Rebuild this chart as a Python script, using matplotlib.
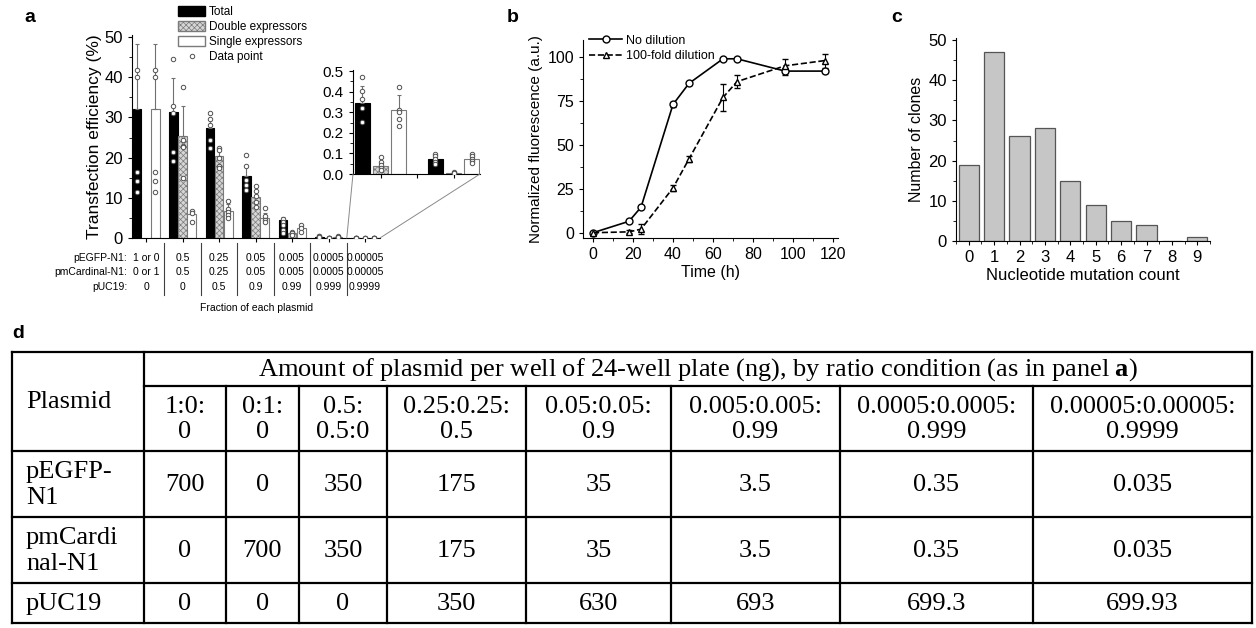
import numpy as np
import matplotlib
matplotlib.use("Agg")
import matplotlib.pyplot as plt
from matplotlib.lines import Line2D
from matplotlib.patches import Patch, ConnectionPatch
from matplotlib.ticker import MultipleLocator

W, H = 1256, 628
SANS = ["Liberation Sans", "DejaVu Sans"]
SERIF = ["Liberation Serif", "DejaVu Serif"]
plt.rcParams["font.family"] = SANS
plt.rcParams["hatch.linewidth"] = 0.5
plt.rcParams["mathtext.fontset"] = "custom"
plt.rcParams["mathtext.rm"] = "Liberation Serif"
plt.rcParams["mathtext.bf"] = "Liberation Serif:bold"

# ---- panel a: transfection efficiency (%) per ratio condition ----
frac_egfp = ["1 or 0", "0.5", "0.25", "0.05", "0.005", "0.0005", "0.00005"]
frac_card = ["0 or 1", "0.5", "0.25", "0.05", "0.005", "0.0005", "0.00005"]
frac_puc = ["0", "0", "0.5", "0.9", "0.99", "0.999", "0.9999"]

total_mean = [32.0, 31.4, 27.4, 15.3, 4.4, 0.346, 0.073]
total_err = [16.2, 8.3, 1.9, 2.5, 0.8, 0.081, 0.024]
double_mean = [None, 25.4, 20.5, 10.2, 1.2, 0.039, 0.005]
double_err = [None, 7.4, 1.4, 2.6, 0.4, 0.013, 0.003]
single_mean = [32.0, 6.0, 6.8, 5.0, 2.6, 0.311, 0.073]
single_err = [16.2, 1.0, 1.6, 1.2, 0.6, 0.072, 0.012]

total_pts = [[41.8, 40.1, 16.5, 14.2, 11.4], [44.5, 32.8, 31.0, 21.5, 19.2],
             [31.0, 29.6, 28.2, 24.5, 22.3], [20.6, 17.8, 14.5, 13.2, 12.0],
             [4.8, 4.0, 3.3, 2.0, 1.2], [0.472, 0.403, 0.362, 0.319, 0.251],
             [0.097, 0.085, 0.072, 0.060, 0.048]]
double_pts = [[], [37.6, 24.5, 23.0, 22.7, 14.9], [22.5, 21.8, 20.0, 18.0, 17.3],
              [13.0, 11.8, 10.5, 9.0, 7.8], [1.6, 1.2, 0.8],
              [0.081, 0.058, 0.042, 0.028, 0.020], [0.008, 0.006, 0.004]]
single_pts = [[41.8, 40.1, 16.5, 14.2, 11.4], [6.7, 6.2, 4.1], [9.3, 7.2, 6.5, 5.8, 5.0],
              [7.5, 5.5, 4.5, 4.0], [3.2, 2.4, 1.5],
              [0.424, 0.310, 0.299, 0.269, 0.233], [0.095, 0.085, 0.075, 0.065, 0.055]]

# ---- panel b: normalized fluorescence over time ----
time_h = [0, 18, 24, 40, 48, 65, 72, 96, 116]
no_dil = [0, 6.5, 14.5, 73, 85, 99, 99, 92, 92]
no_dil_err = [0.5, 0.5, 0.5, 1.5, 1.0, 0.5, 0.5, 2.0, 1.0]
dil = [0, 0.5, 2.0, 25.5, 42, 77, 86, 95, 98]
dil_err = [0.5, 0.8, 3.0, 1.5, 1.5, 7.5, 3.5, 4.0, 4.0]

# ---- panel c: histogram of mutation counts ----
mut_count = [0, 1, 2, 3, 4, 5, 6, 7, 8, 9]
n_clones = [19, 47, 26, 28, 15, 9, 5, 4, 0, 1]

# ---- panel d: table ----
tbl_header = "Amount of plasmid per well of 24-well plate (ng), by ratio condition (as in panel $\\mathbf{a}$)"
tbl_ratios = ["1:0:\n0", "0:1:\n0", "0.5:\n0.5:0", "0.25:0.25:\n0.5", "0.05:0.05:\n0.9",
              "0.005:0.005:\n0.99", "0.0005:0.0005:\n0.999", "0.00005:0.00005:\n0.9999"]
tbl_rows = ["pEGFP-\nN1", "pmCardi\nnal-N1", "pUC19"]
tbl_egfp = ["700", "0", "350", "175", "35", "3.5", "0.35", "0.035"]
tbl_card = ["0", "700", "350", "175", "35", "3.5", "0.35", "0.035"]
tbl_puc = ["0", "0", "0", "350", "630", "693", "699.3", "699.93"]


def box(x0, y0, x1, y1):
    return [x0 / W, 1 - y1 / H, (x1 - x0) / W, (y1 - y0) / H]


def letter(x, y, s):
    fig.text(x / W, 1 - y / H, s, fontsize=14, fontweight="bold", ha="center", va="center")


STYLES = [dict(facecolor="black", edgecolor="black"),
          dict(facecolor="#d6d6d6", edgecolor="#7a7a7a", hatch="xxxxxx"),
          dict(facecolor="white", edgecolor="#7a7a7a")]
OFFS = [-0.25, 0.0, 0.25]


def draw_bars(ax, idx, width, ms, cap):
    series = [(total_mean, total_err, total_pts),
              (double_mean, double_err, double_pts),
              (single_mean, single_err, single_pts)]
    for k, (means, errs, pts) in enumerate(series):
        for j, i in enumerate(idx):
            if means[i] is None:
                continue
            xc = j + OFFS[k]
            ax.bar(xc, means[i], width, lw=0.8, zorder=2, **STYLES[k])
            ax.errorbar(xc, means[i], yerr=[[0], [errs[i]]], color="#707070", lw=0.8,
                        capsize=cap, capthick=0.8, zorder=3)
            ax.plot([xc] * len(pts[i]), pts[i], "o", ls="none", ms=ms, mfc="white",
                    mec="#505050", mew=0.7, zorder=4)


fig = plt.figure(figsize=(W / 100, H / 100), dpi=100)

# table first so that plots sit on top
tab = fig.add_axes([0, 0, 1, 1])
tab.set_xlim(0, W)
tab.set_ylim(H, 0)
tab.axis("off")
cols = [12, 144, 226, 299, 387, 526, 671, 840, 1033, 1252]
rows = [352, 386, 451, 517, 583, 623]
lk = dict(color="black", lw=1.6, solid_capstyle="projecting")
tab.plot([cols[0], cols[-1]], [rows[0], rows[0]], **lk)
tab.plot([cols[1], cols[-1]], [rows[1], rows[1]], **lk)
for yy in rows[2:]:
    tab.plot([cols[0], cols[-1]], [yy, yy], **lk)
for xx in [cols[0], cols[1], cols[-1]]:
    tab.plot([xx, xx], [rows[0], rows[-1]], **lk)
for xx in cols[2:-1]:
    tab.plot([xx, xx], [rows[1], rows[-1]], **lk)
tfs = 19
tk = dict(family=SERIF, fontsize=tfs, va="center")
tab.text(26, (rows[0] + rows[2]) / 2, "Plasmid", ha="left", **tk)
tab.text((cols[1] + cols[-1]) / 2, (rows[0] + rows[1]) / 2 + 1, tbl_header, ha="center", **tk)
ccent = [(a + b) / 2 for a, b in zip(cols[1:-1], cols[2:])]
for xc, s in zip(ccent, tbl_ratios):
    tab.text(xc, (rows[1] + rows[2]) / 2 + 1, s, ha="center", multialignment="center",
             linespacing=1.2, **tk)
for r, (lab, vals) in enumerate(zip(tbl_rows, [tbl_egfp, tbl_card, tbl_puc])):
    yc = (rows[r + 2] + rows[r + 3]) / 2 + 1
    tab.text(26, yc, lab, ha="left", linespacing=1.2, **tk)
    for xc, v in zip(ccent, vals):
        tab.text(xc, yc, v, ha="center", **tk)
letter(18, 334, "d")

# ---- panel a ----
ax = fig.add_axes(box(132, 35, 380, 238))
draw_bars(ax, range(7), 0.24, 3.2, 1.6)
ax.set_xlim(-0.384, 6.41)
ax.set_ylim(0, 50.5)
for s in ["top", "right"]:
    ax.spines[s].set_visible(False)
ax.set_yticks(range(0, 51, 10))
ax.yaxis.set_minor_locator(MultipleLocator(5))
ax.set_xticks(range(7))
ax.set_xticklabels([])
ax.tick_params(direction="out", length=3, labelsize=12)
ax.tick_params(which="minor", length=2)
ax.set_ylabel("Transfection efficiency (%)", fontsize=12.5, labelpad=2)

xt = ax.get_xaxis_transform()
tsm = 7.5
for yy, lab, vals in [(-0.098, "pEGFP-N1:", frac_egfp), (-0.167, "pmCardinal-N1:", frac_card),
                      (-0.241, "pUC19:", frac_puc)]:
    ax.text(-0.52, yy, lab, transform=xt, ha="right", va="center", fontsize=tsm)
    for j, v in enumerate(vals):
        ax.text(j, yy, v, transform=xt, ha="center", va="center", fontsize=tsm)
for b in np.arange(0.5, 6, 1):
    ax.plot([b, b], [-0.025, -0.28], transform=xt, color="#404040", lw=0.8, clip_on=False)
ax.text(3.04, -0.345, "Fraction of each plasmid", transform=xt, ha="center", va="center",
        fontsize=tsm)

handles = [Patch(**STYLES[0]), Patch(**STYLES[1]), Patch(**STYLES[2]),
           Line2D([], [], marker="o", ls="none", ms=3.2, mfc="white", mec="#505050", mew=0.7)]
fig.legend(handles, ["Total", "Double expressors", "Single expressors", "Data point"],
           loc="upper left", bbox_to_anchor=(178 / W, 1 - 6 / H), frameon=False,
           fontsize=8.5, handlelength=2.3, handleheight=0.95, labelspacing=0.25,
           handletextpad=0.3, borderpad=0, borderaxespad=0)

# inset zoom on the two lowest ratios
axi = fig.add_axes(box(353, 70, 480, 174))
draw_bars(axi, [5, 6], 0.205, 3.2, 1.6)
axi.set_xlim(-0.377, 1.36)
axi.set_ylim(0, 0.505)
for s in ["top", "right"]:
    axi.spines[s].set_visible(False)
axi.set_yticks(np.arange(0, 0.51, 0.1))
axi.set_yticklabels([f"{v:.1f}" for v in np.arange(0, 0.51, 0.1)])
axi.yaxis.set_minor_locator(MultipleLocator(0.05))
axi.set_xticks([0, 0.5, 1])
axi.set_xticklabels([])
axi.tick_params(direction="out", length=3, labelsize=11)
axi.tick_params(which="minor", length=2)
for xa, xb in [((5.5, 0), (0, 0)), ((1, 0), (1, 0))]:
    ca = "data" if xa[0] > 1 else "axes fraction"
    con = ConnectionPatch(xyA=xa, coordsA=ca, axesA=ax, xyB=xb, coordsB="axes fraction",
                          axesB=axi, color="#8a8a8a", lw=0.7)
    fig.add_artist(con)

letter(30, 17, "a")

# ---- panel b ----
axb = fig.add_axes(box(583, 40, 838, 238))
axb.errorbar(time_h, no_dil, yerr=no_dil_err, fmt="-o", color="black", mfc="white", ms=5,
             lw=1.2, elinewidth=0.8, capsize=2, zorder=3)
axb.errorbar(time_h, dil, yerr=dil_err, fmt="--^", color="black", mfc="white", ms=5,
             lw=1.2, elinewidth=0.8, capsize=2, zorder=3)
axb.set_xlim(-5, 122.5)
axb.set_ylim(-3, 109.7)
for s in ["top", "right"]:
    axb.spines[s].set_visible(False)
axb.set_xticks(range(0, 121, 20))
axb.xaxis.set_minor_locator(MultipleLocator(10))
axb.set_yticks(range(0, 101, 25))
axb.yaxis.set_minor_locator(MultipleLocator(12.5))
axb.tick_params(direction="out", length=3, labelsize=11.5)
axb.tick_params(which="minor", length=2)
axb.set_xlabel("Time (h)", fontsize=11.5, labelpad=2)
axb.set_ylabel("Normalized fluorescence (a.u.)", fontsize=11, labelpad=3)
hb = [Line2D([], [], color="black", ls="-", marker="o", mfc="white", ms=5, lw=1.2),
      Line2D([], [], color="black", ls="--", marker="^", mfc="white", ms=5, lw=1.2)]
axb.legend(hb, ["No dilution", "100-fold dilution"], loc="upper left",
           bbox_to_anchor=(0.015, 1.04), frameon=False, fontsize=9, handlelength=2.6,
           labelspacing=0.3, handletextpad=0.3, borderpad=0.2, borderaxespad=0)
letter(513, 17, "b")

# ---- panel c ----
axc = fig.add_axes(box(956, 38, 1210, 241))
axc.bar(mut_count, n_clones, width=0.8, color="#c6c6c6", edgecolor="#555555", lw=0.9)
axc.set_xlim(-0.45, 9.5)
axc.set_ylim(0, 50.5)
for s in ["top", "right"]:
    axc.spines[s].set_visible(False)
axc.set_xticks(mut_count)
axc.set_xticks(np.arange(-0.5, 9.6, 1), minor=True)
axc.set_yticks(range(0, 51, 10))
axc.yaxis.set_minor_locator(MultipleLocator(5))
axc.tick_params(direction="out", length=3, labelsize=12)
axc.tick_params(which="minor", length=2)
axc.set_xlabel("Nucleotide mutation count", fontsize=12, labelpad=2)
axc.set_ylabel("Number of clones", fontsize=11.5, labelpad=3)
letter(897, 17, "c")

fig.savefig("out.png", dpi=100, facecolor="white")
